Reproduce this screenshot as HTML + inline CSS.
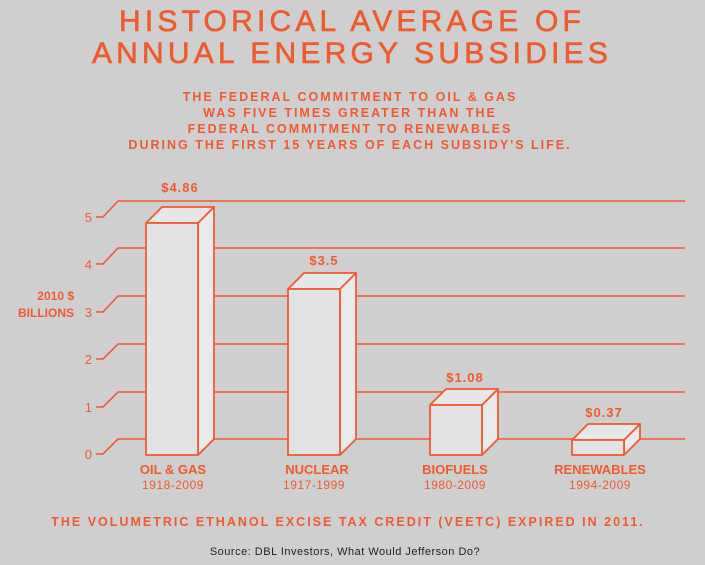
<!DOCTYPE html>
<html><head><style>
body{margin:0;width:705px;height:565px;background:#cfcfcf;overflow:hidden}
svg{display:block}
text{font-family:"Liberation Sans","DejaVu Sans",sans-serif;fill:#ef5a2e}
</style></head><body>
<svg width="705" height="565" viewBox="0 0 705 565">
<g font-size="30" letter-spacing="4.2" text-anchor="middle" stroke="#ef5a2e" stroke-width="0.6">
<text x="352" y="31">HISTORICAL AVERAGE OF</text>
<text x="352" y="63">ANNUAL ENERGY SUBSIDIES</text>
</g>
<g font-size="12.5" font-weight="bold" letter-spacing="2" text-anchor="middle">
<text x="350" y="101">THE FEDERAL COMMITMENT TO OIL &amp; GAS</text>
<text x="350" y="117">WAS FIVE TIMES GREATER THAN THE</text>
<text x="350" y="133">FEDERAL COMMITMENT TO RENEWABLES</text>
<text x="350" y="149">DURING THE FIRST 15 YEARS OF EACH SUBSIDY'S LIFE.</text>
</g>
<g stroke="#ef5a2e" stroke-width="1.6" fill="none">
<path d="M96 454H103L118 439H685"/>
<path d="M96 407H103L118 392H685"/>
<path d="M96 359H103L118 344H685"/>
<path d="M96 312H103L118 296H685"/>
<path d="M96 264H103L118 248H685"/>
<path d="M96 217H103L118 201H685"/>
</g>
<g font-size="13" text-anchor="end">
<text x="92" y="459">0</text><text x="92" y="412">1</text><text x="92" y="364">2</text>
<text x="92" y="317">3</text><text x="92" y="269">4</text><text x="92" y="222">5</text>
</g>
<g font-size="12" font-weight="bold" text-anchor="end">
<text x="74" y="300">2010 $</text><text x="74" y="317">BILLIONS</text>
</g>
<g stroke="#ef5a2e" stroke-width="1.8" stroke-linejoin="round">
<path d="M198 455L214 439V207L198 223Z" fill="#e9eaec"/>
<path d="M146 223L162 207H214L198 223Z" fill="#e6e7e9"/>
<rect x="146" y="223" width="52" height="232" fill="#e2e3e5"/>
<path d="M340 455L356 439V273L340 289Z" fill="#e9eaec"/>
<path d="M288 289L304 273H356L340 289Z" fill="#e6e7e9"/>
<rect x="288" y="289" width="52" height="166" fill="#e2e3e5"/>
<path d="M482 455L498 439V389L482 405Z" fill="#e9eaec"/>
<path d="M430 405L446 389H498L482 405Z" fill="#e6e7e9"/>
<rect x="430" y="405" width="52" height="50" fill="#e2e3e5"/>
<path d="M624 455L640 439V424L624 440Z" fill="#e9eaec"/>
<path d="M572 440L588 424H640L624 440Z" fill="#e6e7e9"/>
<rect x="572" y="440" width="52" height="15" fill="#e2e3e5"/>
</g>
<g font-size="13" font-weight="bold" text-anchor="middle" letter-spacing="1">
<text x="180" y="192">$4.86</text><text x="324" y="265">$3.5</text>
<text x="465" y="382">$1.08</text><text x="604" y="417">$0.37</text>
</g>
<g font-size="13" font-weight="bold" text-anchor="middle">
<text x="173" y="474">OIL &amp; GAS</text><text x="317" y="474">NUCLEAR</text>
<text x="455" y="474">BIOFUELS</text><text x="600" y="474">RENEWABLES</text>
</g>
<g font-size="12" text-anchor="middle" letter-spacing="0.5">
<text x="173" y="489">1918-2009</text><text x="314" y="489">1917-1999</text>
<text x="455" y="489">1980-2009</text><text x="600" y="489">1994-2009</text>
</g>
<text x="348" y="526" text-anchor="middle" font-size="12.5" font-weight="bold" letter-spacing="2">THE VOLUMETRIC ETHANOL EXCISE TAX CREDIT (VEETC) EXPIRED IN 2011.</text>
<text x="345" y="555" text-anchor="middle" font-size="11" style="fill:#222" letter-spacing="0.5">Source: DBL Investors, What Would Jefferson Do?</text>
</svg>
</body></html>
